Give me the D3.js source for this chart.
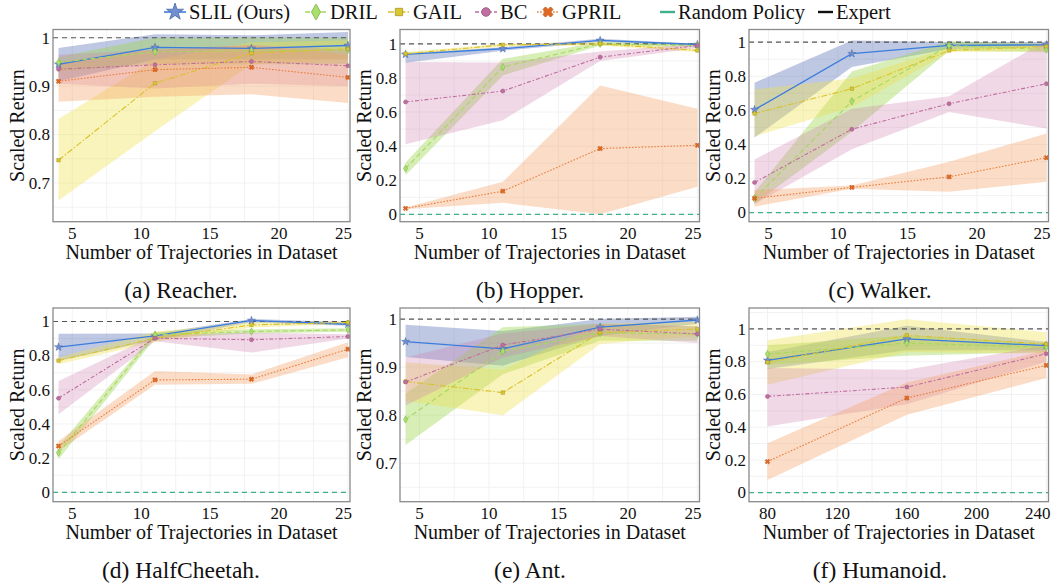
<!DOCTYPE html>
<html>
<head>
<meta charset="utf-8">
<script src="https://cdn.jsdelivr.net/npm/d3@7"></script>
<style>
  body { margin: 0; background: #fff; }
  svg { display: block; }
</style>
</head>
<body>
<svg id="chart"></svg>
<script>
// ---- data ----
const methods = ["SLIL (Ours)", "DRIL", "GAIL", "BC", "GPRIL"];
const captions = ["(a) Reacher.", "(b) Hopper.", "(c) Walker.", "(d) HalfCheetah.", "(e) Ant.", "(f) Humanoid."];
const trajCounts = [4, 11, 18, 25];
const humanoidCounts = [80, 160, 240];
const trajTicks = [5, 10, 15, 20, 25];
const humanoidTicks = [80, 120, 160, 200, 240];
const fineTicks = [0.7, 0.8, 0.9, 1];
const coarseTicks = [0, 0.2, 0.4, 0.6, 0.8, 1];

// rows follow `methods`
const reacherMean = [[0.945, 0.980, 0.978, 0.984], [0.949, 0.971, 0.973, 0.975], [0.747, 0.906, 0.968, 0.977], [0.935, 0.944, 0.951, 0.942], [0.910, 0.934, 0.939, 0.918]];
const reacherLow  = [[0.910, 0.955, 0.955, 0.955], [0.930, 0.945, 0.945, 0.945], [0.664, 0.807, 0.945, 0.955], [0.905, 0.895, 0.905, 0.900], [0.868, 0.878, 0.883, 0.865]];
const reacherHigh = [[0.979, 1.007, 1.005, 1.012], [0.960, 1.000, 1.000, 1.000], [0.832, 0.955, 0.990, 0.995], [0.965, 0.975, 0.985, 0.975], [0.950, 0.975, 0.985, 0.965]];

const hopperMean = [[0.938, 0.971, 1.020, 0.996], [0.269, 0.864, 1.000, 0.990], [0.942, 0.994, 1.000, 0.961], [0.659, 0.723, 0.922, 0.990], [0.035, 0.136, 0.386, 0.405]];
const hopperLow  = [[0.889, 0.960, 1.010, 0.990], [0.230, 0.815, 0.990, 0.980], [0.930, 0.985, 0.990, 0.950], [0.411, 0.552, 0.900, 0.975], [0.030, 0.068, 0.000, 0.162]];
const hopperHigh = [[0.945, 0.980, 1.030, 1.000], [0.304, 0.912, 1.010, 1.000], [0.952, 1.000, 1.010, 0.970], [0.893, 0.890, 0.955, 1.000], [0.040, 0.191, 0.756, 0.620]];

const walkerMean = [[0.604, 0.932, 0.981, 0.984], [0.084, 0.653, 0.980, 0.957], [0.581, 0.727, 0.951, 0.975], [0.177, 0.489, 0.639, 0.756], [0.084, 0.148, 0.210, 0.322]];
const walkerLow  = [[0.440, 0.854, 0.960, 0.970], [0.050, 0.474, 0.950, 0.940], [0.448, 0.620, 0.940, 0.950], [0.050, 0.372, 0.590, 0.493], [0.035, 0.140, 0.123, 0.181]];
const walkerHigh = [[0.762, 1.010, 1.000, 1.000], [0.120, 0.828, 1.005, 0.990], [0.723, 0.786, 0.970, 0.990], [0.312, 0.610, 0.682, 1.010], [0.133, 0.160, 0.298, 0.464]];

const cheetahMean = [[0.850, 0.916, 1.006, 0.984], [0.232, 0.922, 0.941, 0.951], [0.771, 0.902, 0.980, 0.994], [0.551, 0.902, 0.893, 0.912], [0.271, 0.658, 0.662, 0.838]];
const cheetahLow  = [[0.770, 0.890, 0.995, 0.975], [0.193, 0.900, 0.930, 0.940], [0.750, 0.880, 0.965, 0.985], [0.457, 0.885, 0.818, 0.900], [0.240, 0.630, 0.635, 0.791]];
const cheetahHigh = [[0.928, 0.930, 1.015, 0.995], [0.270, 0.940, 0.955, 0.960], [0.790, 0.940, 0.995, 1.000], [0.652, 0.920, 0.935, 0.925], [0.300, 0.710, 0.690, 0.879]];

const antMean = [[0.953, 0.938, 0.983, 0.998], [0.791, 0.933, 0.971, 0.969], [0.870, 0.847, 0.972, 0.979], [0.869, 0.946, 0.979, 0.969], null];
const antLow  = [[0.921, 0.903, 0.965, 0.990], [0.738, 0.885, 0.955, 0.955], [0.830, 0.800, 0.948, 0.965], [0.820, 0.920, 0.965, 0.950], null];
const antHigh = [[0.988, 0.975, 1.000, 1.005], [0.845, 0.983, 0.990, 0.985], [0.910, 0.895, 0.990, 0.995], [0.920, 0.970, 0.990, 0.985], null];

const humanoidMean = [[0.808, 0.939, 0.898], [0.847, 0.914, 0.888], [0.796, 0.961, 0.908], [0.588, 0.645, 0.849], [0.190, 0.578, 0.778]];
const humanoidLow  = [[0.755, 0.870, 0.870], [0.780, 0.837, 0.860], [0.660, 0.860, 0.850], [0.404, 0.540, 0.800], [0.078, 0.476, 0.700]];
const humanoidHigh = [[0.860, 1.020, 0.920], [0.900, 0.960, 0.910], [0.931, 1.060, 0.980], [0.761, 0.751, 0.900], [0.302, 0.673, 0.869]];

// ---- styling ----
const lineColors = ["#3b7ddd", "#a6d85e", "#d9c22a", "#c06c9e", "#ea7d3c"];
const bandColors = ["#4a66b0", "#9bd54a", "#f0e050", "#cc7fb0", "#f3a263"];
const bandOpacity = [0.36, 0.4, 0.38, 0.3, 0.36];
const markFill = ["#6f8fd0", "#a8e070", "#d8c830", "#c070a0", "#e06a25"];
const markStroke = ["#4a68a8", "#7fb040", "#a89520", "#985080", "#c05010"];
const dashes = [null, "5,3", "6,2,1.5,2", "4,2,1.5,2", "1.6,1.6"];
const symbols = [d3.symbolStar, d3.symbolDiamond, d3.symbolSquare, d3.symbolCircle, d3.symbolCross];
const symSize = [20, 16, 12, 13, 14];

const serif = '"Liberation Serif"';
const W = 1055, H = 583;
const cols = [{l: 53, r: 350}, {l: 400, r: 699.5}, {l: 749, r: 1048.5}];
const rows = [{t: 29.5, b: 221.7}, {t: 308, b: 501.7}];
// legend slots: left edge of each key line (methods, then random / expert)
const legendKeyX = [164, 305, 388, 475, 537];
const legendRefX = [660, 818];

const panels = [
  {mean: reacherMean, low: reacherLow, high: reacherHigh, xs: trajCounts, xt: trajTicks, xd: [3.6, 25.15], yt: fineTicks, yd: [0.62, 1.017]},
  {mean: hopperMean, low: hopperLow, high: hopperHigh, xs: trajCounts, xt: trajTicks, xd: [3.6, 25.15], yt: coarseTicks, yd: [-0.043, 1.084]},
  {mean: walkerMean, low: walkerLow, high: walkerHigh, xs: trajCounts, xt: trajTicks, xd: [3.6, 25.15], yt: coarseTicks, yd: [-0.053, 1.074]},
  {mean: cheetahMean, low: cheetahLow, high: cheetahHigh, xs: trajCounts, xt: trajTicks, xd: [3.6, 25.15], yt: coarseTicks, yd: [-0.055, 1.079]},
  {mean: antMean, low: antLow, high: antHigh, xs: trajCounts, xt: trajTicks, xd: [3.6, 25.15], yt: fineTicks, yd: [0.62, 1.023]},
  {mean: humanoidMean, low: humanoidLow, high: humanoidHigh, xs: humanoidCounts, xt: humanoidTicks, xd: [69.4, 241.3], yt: coarseTicks, yd: [-0.055, 1.128]}
];

const svg = d3.select("#chart").attr("width", W).attr("height", H);
const defs = svg.append("defs");
const fmt = d => (d === 0 || d === 1) ? String(d) : d.toFixed(1);
// every text gets the serif face directly
const addText = (sel, size) => sel.append("text").style("font-family", serif)
  .attr("font-size", size).attr("fill", "#111");

panels.forEach((p, i) => {
  const c = cols[i % 3], r = rows[Math.floor(i / 3)];
  const x = d3.scaleLinear().domain(p.xd).range([c.l, c.r]);
  const y = d3.scaleLinear().domain(p.yd).range([r.b, r.t]);
  const g = svg.append("g");

  defs.append("clipPath").attr("id", "clip" + i)
    .append("rect").attr("x", c.l).attr("y", r.t).attr("width", c.r - c.l).attr("height", r.b - r.t);

  // light grid, major + minor
  const xStep = p.xt[1] - p.xt[0], yStep = p.yt[1] - p.yt[0];
  const xMinor = d3.range(p.xt[0] - xStep, p.xt[p.xt.length - 1] + xStep, xStep / 2).filter(v => v > p.xd[0] && v < p.xd[1]);
  const yMinor = d3.range(p.yt[0] - yStep, 1.2, yStep / 2).filter(v => v > p.yd[0] && v < p.yd[1]);
  g.selectAll(".gx").data(xMinor).join("line")
    .attr("x1", d => x(d)).attr("x2", d => x(d)).attr("y1", r.t).attr("y2", r.b)
    .attr("stroke", "#f2f2f2").attr("stroke-width", 1);
  g.selectAll(".gy").data(yMinor).join("line")
    .attr("y1", d => y(d)).attr("y2", d => y(d)).attr("x1", c.l).attr("x2", c.r)
    .attr("stroke", "#f2f2f2").attr("stroke-width", 1);

  const plot = g.append("g").attr("clip-path", `url(#clip${i})`);

  // shaded bands
  p.mean.forEach((m, k) => {
    if (!m) return;
    const pts = p.xs.map((xv, j) => ({x: xv, lo: p.low[k][j], hi: p.high[k][j]}));
    plot.append("path").datum(pts)
      .attr("d", d3.area().x(d => x(d.x)).y0(d => y(d.lo)).y1(d => y(d.hi)))
      .attr("fill", bandColors[k]).attr("fill-opacity", bandOpacity[k]);
  });

  // reference lines: expert at 1, random policy at 0
  [[1, "#555"], [0, "#3fb08a"]].forEach(([v, col]) => {
    if (v < p.yd[0] || v > p.yd[1]) return;
    plot.append("line").attr("x1", c.l).attr("x2", c.r).attr("y1", y(v)).attr("y2", y(v))
      .attr("stroke", col).attr("stroke-width", 1.2).attr("stroke-dasharray", "5,4");
  });

  // mean lines + markers
  p.mean.forEach((m, k) => {
    if (!m) return;
    const pts = p.xs.map((xv, j) => ({x: xv, v: m[j]}));
    plot.append("path").datum(pts)
      .attr("d", d3.line().x(d => x(d.x)).y(d => y(d.v)))
      .attr("fill", "none").attr("stroke", lineColors[k]).attr("stroke-width", k === 0 ? 1.3 : 1.1)
      .attr("stroke-dasharray", dashes[k]);
    plot.selectAll(null).data(pts).join("path")
      .attr("d", d3.symbol().type(symbols[k]).size(symSize[k]))
      .attr("transform", d => `translate(${x(d.x)},${y(d.v)})` + (k === 4 ? " rotate(45)" : ""))
      .attr("fill", markFill[k]).attr("stroke", markStroke[k]).attr("stroke-width", 0.5);
  });

  // frame
  g.append("rect").attr("x", c.l).attr("y", r.t).attr("width", c.r - c.l).attr("height", r.b - r.t)
    .attr("fill", "none").attr("stroke", "#8a8a8a").attr("stroke-width", 1.3);

  // y tick labels
  p.yt.forEach(t => {
    addText(g, 17).attr("x", c.l - 3).attr("y", y(t)).attr("dy", "0.34em")
      .attr("text-anchor", "end").text(fmt(t));
  });

  // x tick labels (last one kept inside the frame edge)
  p.xt.forEach(t => {
    const lab = addText(g, 17).attr("y", r.b + 17).attr("text-anchor", "middle").text(t);
    const w = lab.node().getComputedTextLength();
    lab.attr("x", Math.min(x(t), c.r + 2 - w / 2));
  });

  // axis titles
  addText(g, 20).attr("x", (c.l + c.r) / 2).attr("y", r.b + 37.5)
    .attr("text-anchor", "middle").text("Number of Trajectories in Dataset");
  addText(g, 20)
    .attr("transform", `translate(${c.l - 29.5},${(r.t + r.b) / 2}) rotate(-90)`)
    .attr("text-anchor", "middle").text("Scaled Return");

  // caption
  const capCx = i % 3 === 0 ? 181 : i % 3 === 1 ? 530 : 880;
  addText(g, 23.5).attr("x", capCx).attr("y", r.b + 76.5)
    .attr("text-anchor", "middle").text(captions[i]);
});

// ---- legend ----
const legend = svg.append("g").attr("transform", "translate(0,12)");
methods.forEach((name, k) => {
  const lx = legendKeyX[k];
  legend.append("line").attr("x1", lx).attr("x2", lx + 22).attr("y1", 0).attr("y2", 0)
    .attr("stroke", lineColors[k]).attr("stroke-width", 1.6).attr("stroke-dasharray", dashes[k]);
  legend.append("path")
    .attr("d", d3.symbol().type(symbols[k]).size(symSize[k] * 4.5))
    .attr("transform", `translate(${lx + 11},0)` + (k === 4 ? " rotate(45)" : ""))
    .attr("fill", markFill[k]).attr("stroke", markStroke[k]).attr("stroke-width", 0.8);
  addText(legend, 20.5).attr("x", lx + 25).attr("y", 0).attr("dy", "0.35em").text(name);
});
[["Random Policy", "#3fb08a"], ["Expert", "#111"]].forEach(([name, col], k) => {
  const lx = legendRefX[k];
  legend.append("line").attr("x1", lx).attr("x2", lx + 15).attr("y1", 0).attr("y2", 0)
    .attr("stroke", col).attr("stroke-width", 2.4);
  addText(legend, 20.5).attr("x", lx + 18).attr("y", 0).attr("dy", "0.35em").text(name);
});
</script>
</body>
</html>
